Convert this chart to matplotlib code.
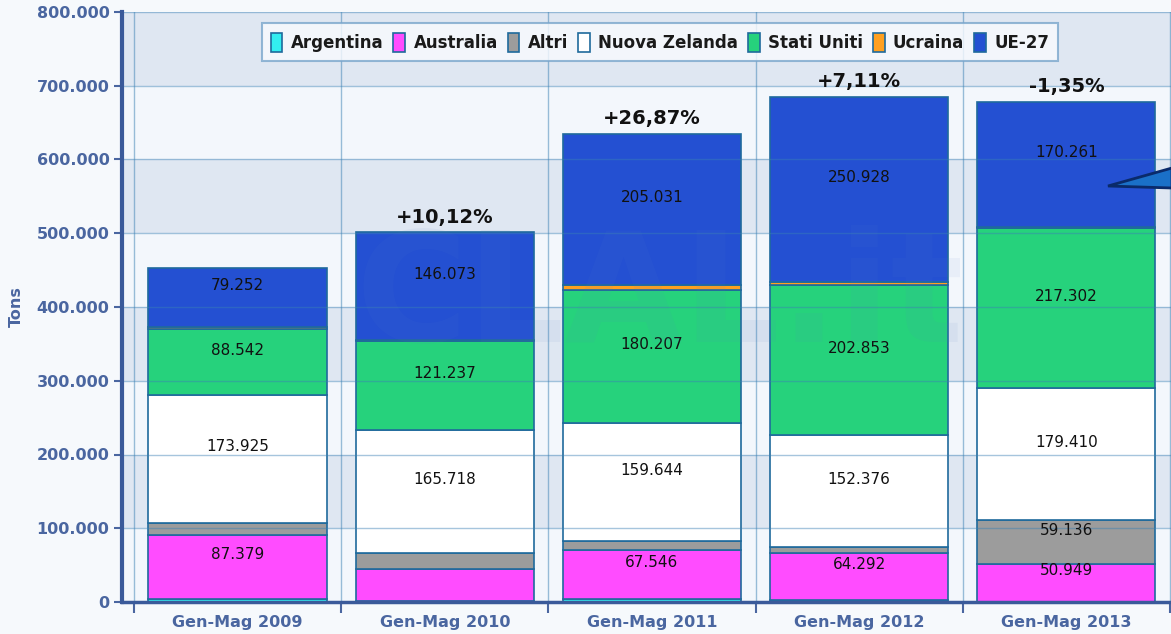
import numpy as np
import matplotlib
matplotlib.use("Agg")
import matplotlib.pyplot as plt
from matplotlib.patches import Patch, Polygon
from matplotlib.ticker import FuncFormatter, FixedLocator


categories = ['Gen-Mag 2009', 'Gen-Mag 2010', 'Gen-Mag 2011', 'Gen-Mag 2012', 'Gen-Mag 2013']

# tonnellate per paese di origine
argentina = [4000, 2000, 3500, 2700, 500]
australia = [87379, 43300, 67546, 64292, 50949]
altri = [15700, 21700, 11700, 7000, 59136]
nuova_zelanda = [173925, 165718, 159644, 152376, 179410]
stati_uniti = [88542, 121237, 180207, 202853, 217302]
ucraina = [4000, 1000, 7000, 5000, 500]
ue27 = [79252, 146073, 205031, 250928, 170261]

variazioni = ['', '+10,12%', '+26,87%', '+7,11%', '-1,35%']

serie = [
    ('Argentina', argentina, '#33eef0'),
    ('Australia', australia, '#ff4cff'),
    ('Altri', altri, '#9c9c9c'),
    ('Nuova Zelanda', nuova_zelanda, '#ffffff'),
    ('Stati Uniti', stati_uniti, '#26d27c'),
    ('Ucraina', ucraina, '#ffa020'),
    ('UE-27', ue27, '#2450d2'),
]

axis_col = '#4a66a0'
grid_col = '#3a80b4'
edge_col = '#1f6a9c'

fig = plt.figure(figsize=(11.71, 6.34), dpi=100)
fig.patch.set_facecolor('#f6f9fc')
ax = fig.add_axes([122/1171, 32/634, 1 - 122/1171, (602-12)/634])

x = np.arange(len(categories))
ax.set_xlim(-0.5 - 12/207.4, 4.5 + 1/207.4)
ax.set_ylim(0, 800000)

# bande orizzontali alternate
for i in range(8):
    col = '#f3f7fc' if i % 2 == 0 else '#dfe7f2'
    ax.axhspan(i*100000, (i+1)*100000, color=col, zorder=0, lw=0)

bottom = np.zeros(len(categories))
for nome, val, col in serie:
    val = np.array(val, dtype=float)
    ax.bar(x, val, bottom=bottom, width=0.86, color=col, edgecolor=edge_col,
           linewidth=1.2, zorder=2)
    for i in range(len(x)):
        if val[i] >= 50000:
            ax.annotate(f"{int(val[i]):,}".replace(',', '.'),
                        (x[i], bottom[i] + val[i]/2), xytext=(0, 8.6),
                        textcoords='offset points', ha='center', va='center',
                        fontsize=11, color='#111111', zorder=5)
    bottom += val

for i in range(len(x)):
    if variazioni[i]:
        ax.annotate(variazioni[i], (x[i], bottom[i]), xytext=(0, 11),
                    textcoords='offset points', ha='center', va='center',
                    fontsize=14, fontweight='bold', color='#111111', zorder=5)

# griglia sopra le barre, semitrasparente
for yv in range(100000, 800001, 100000):
    ax.axhline(yv, color=grid_col, lw=1, alpha=0.45, zorder=3)
for xv in np.arange(-0.5, 4.6, 1.0):
    ax.axvline(xv, color=grid_col, lw=1, alpha=0.5, zorder=1)

ax.yaxis.set_major_locator(FixedLocator(np.arange(0, 800001, 100000)))
ax.yaxis.set_major_formatter(FuncFormatter(lambda v, p: f"{int(v):,}".replace(',', '.')))
ax.set_xticks(x)
ax.set_xticklabels(categories)
ax.set_xticks(np.arange(-0.5, 4.6, 1.0), minor=True)
ax.tick_params(axis='x', which='major', length=0, pad=9, labelsize=11.5,
               labelcolor=axis_col)
ax.tick_params(axis='x', which='minor', length=8, width=1.5, color=axis_col)
ax.tick_params(axis='y', length=6, width=1.5, color=axis_col, labelsize=11.5,
               labelcolor=axis_col, pad=3)
for lab in ax.get_xticklabels() + ax.get_yticklabels():
    lab.set_fontweight('bold')

ax.set_ylabel('Tons', fontsize=11.5, fontweight='bold', color=axis_col, labelpad=9)

for s in ['top', 'right']:
    ax.spines[s].set_visible(False)
ax.spines['left'].set_color('#3a5a9a')
ax.spines['left'].set_linewidth(3)
ax.spines['bottom'].set_color('#3a5a9a')
ax.spines['bottom'].set_linewidth(2.5)
ax.spines['left'].set_zorder(6)
ax.spines['bottom'].set_zorder(6)

handles = [Patch(facecolor=col, edgecolor=edge_col, linewidth=1.2, label=nome)
           for nome, val, col in serie]
leg = ax.legend(handles=handles, loc='upper center', ncol=7,
                bbox_to_anchor=((660 - 122)/1049, (602 - 15)/590), bbox_transform=ax.transAxes,
                frameon=True, fancybox=False, handlelength=0.7, handleheight=1.4,
                handletextpad=0.5, columnspacing=0.6, borderpad=0.55,
                prop={'family': ['Liberation Sans Narrow', 'DejaVu Sans'],
                      'weight': 'bold', 'size': 12})
leg.get_frame().set_facecolor('#f9fbfe')
leg.get_frame().set_edgecolor('#7aa6cc')
leg.get_frame().set_linewidth(1.5)
leg.set_zorder(7)
for t in leg.get_texts():
    t.set_color('#1a1a1a')

# filigrana
fig.text(660/1171, 1 - 300/634, 'CLAL.it', fontsize=110, fontweight='bold',
         color='#5a80c4', alpha=0.07, ha='center', va='center', zorder=10)

# freccia a destra
pts = [(1108, 186), (1172, 168), (1172, 188)]
arrow = Polygon([(px/1171, 1 - py/634) for px, py in pts], closed=True,
                transform=fig.transFigure, facecolor='#1a70c8', edgecolor='#0a2a6a',
                linewidth=2, zorder=10)
fig.patches.append(arrow)

fig.savefig('out.png', dpi=100)
